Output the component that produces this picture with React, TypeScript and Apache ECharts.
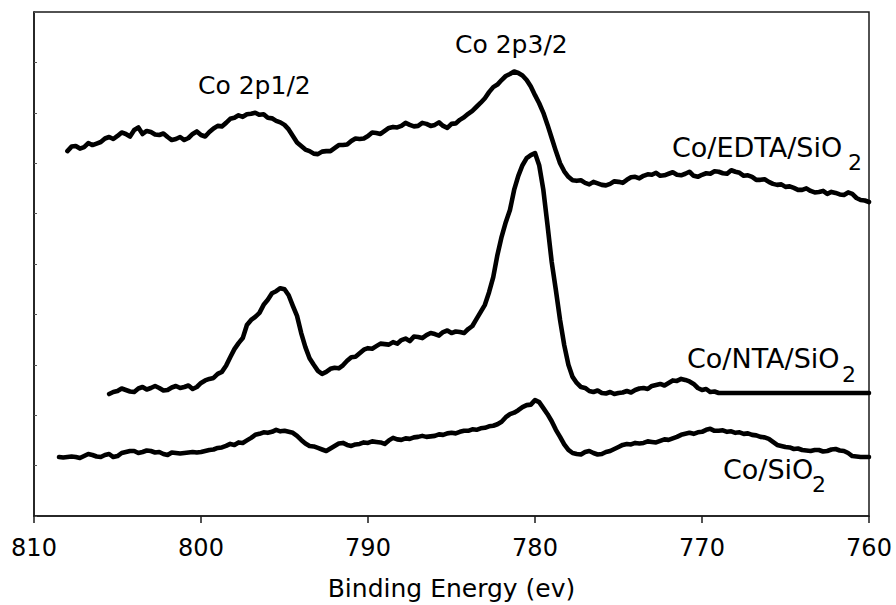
import React, { useEffect, useRef } from "react";
import * as echarts from "echarts";

// Binding energy grid (eV), 0.25 eV steps; every spectrum ends at 760 eV
const energy = [
  808.5, 808.25,
  808, 807.75, 807.5, 807.25, 807, 806.75, 806.5, 806.25,
  806, 805.75, 805.5, 805.25, 805, 804.75, 804.5, 804.25,
  804, 803.75, 803.5, 803.25, 803, 802.75, 802.5, 802.25,
  802, 801.75, 801.5, 801.25, 801, 800.75, 800.5, 800.25,
  800, 799.75, 799.5, 799.25, 799, 798.75, 798.5, 798.25,
  798, 797.75, 797.5, 797.25, 797, 796.75, 796.5, 796.25,
  796, 795.75, 795.5, 795.25, 795, 794.75, 794.5, 794.25,
  794, 793.75, 793.5, 793.25, 793, 792.75, 792.5, 792.25,
  792, 791.75, 791.5, 791.25, 791, 790.75, 790.5, 790.25,
  790, 789.75, 789.5, 789.25, 789, 788.75, 788.5, 788.25,
  788, 787.75, 787.5, 787.25, 787, 786.75, 786.5, 786.25,
  786, 785.75, 785.5, 785.25, 785, 784.75, 784.5, 784.25,
  784, 783.75, 783.5, 783.25, 783, 782.75, 782.5, 782.25,
  782, 781.75, 781.5, 781.25, 781, 780.75, 780.5, 780.25,
  780, 779.75, 779.5, 779.25, 779, 778.75, 778.5, 778.25,
  778, 777.75, 777.5, 777.25, 777, 776.75, 776.5, 776.25,
  776, 775.75, 775.5, 775.25, 775, 774.75, 774.5, 774.25,
  774, 773.75, 773.5, 773.25, 773, 772.75, 772.5, 772.25,
  772, 771.75, 771.5, 771.25, 771, 770.75, 770.5, 770.25,
  770, 769.75, 769.5, 769.25, 769, 768.75, 768.5, 768.25,
  768, 767.75, 767.5, 767.25, 767, 766.75, 766.5, 766.25,
  766, 765.75, 765.5, 765.25, 765, 764.75, 764.5, 764.25,
  764, 763.75, 763.5, 763.25, 763, 762.75, 762.5, 762.25,
  762, 761.75, 761.5, 761.25, 761, 760.75, 760.5, 760.25,
  760,
];

// Co/EDTA/SiO2 intensity (a.u., vertically offset), 808.0 -> 760 eV
const edta = [
  72.4, 73.3, 73.4, 72.9, 73.2, 74.0, 73.6, 73.9,
  74.2, 74.9, 75.2, 74.8, 75.4, 76.1, 75.8, 75.3,
  76.6, 77.1, 75.8, 76.4, 76.2, 75.7, 75.6, 75.9,
  75.2, 74.6, 74.8, 75.2, 74.6, 75.0, 75.8, 76.3,
  75.6, 75.3, 76.2, 76.9, 77.4, 77.3, 78.0, 78.8,
  79.0, 79.5, 79.2, 79.7, 79.8, 80.0, 79.6, 79.7,
  79.0, 78.9, 78.4, 78.1, 77.6, 76.7, 75.4, 74.1,
  73.4, 72.7, 72.4, 71.9, 71.8, 72.3, 72.4, 72.4,
  73.0, 73.6, 73.6, 73.7, 74.4, 74.9, 74.8, 74.9,
  75.4, 76.1, 76.0, 75.8, 76.4, 77.0, 77.2, 77.1,
  77.4, 78.0, 77.6, 77.3, 77.4, 78.0, 77.8, 77.4,
  77.6, 78.1, 77.4, 77.0, 77.8, 77.9, 78.6, 79.1,
  79.8, 80.4, 81.2, 82.0, 82.9, 84.1, 85.1, 85.6,
  86.5, 87.3, 87.7, 88.2, 87.9, 87.4, 86.5, 85.2,
  83.5, 81.9, 80.0, 77.6, 75.0, 72.4, 70.0, 68.4,
  67.3, 66.6, 66.5, 66.6, 66.1, 65.8, 66.3, 66.0,
  65.7, 65.6, 65.9, 66.4, 66.3, 66.1, 66.7, 67.2,
  67.3, 67.0, 67.5, 67.8, 67.7, 68.1, 67.5, 67.6,
  67.9, 68.2, 67.7, 67.6, 67.9, 68.3, 67.5, 67.3,
  67.7, 68.0, 67.9, 68.4, 68.3, 68.0, 67.9, 68.6,
  68.3, 68.1, 67.5, 67.6, 67.3, 66.7, 66.7, 66.8,
  66.3, 65.9, 65.7, 65.8, 65.3, 65.4, 65.1, 64.7,
  64.7, 65.0, 64.5, 64.2, 64.3, 64.5, 63.9, 64.3,
  64.1, 63.8, 63.7, 64.2, 63.9, 63.1, 62.7, 62.6,
  62.3,
];

// Co/NTA/SiO2 intensity (a.u., vertically offset), 805.5 -> 760 eV
const nta = [
  24.2, 24.6,
  24.8, 25.3, 25.0, 24.7, 24.6, 25.3, 25.6, 25.1,
  25.4, 25.8, 25.4, 24.9, 25.0, 25.5, 25.8, 25.4,
  25.6, 25.9, 25.2, 25.6, 26.4, 26.9, 27.2, 27.4,
  28.2, 28.6, 29.8, 31.5, 33.1, 34.3, 35.3, 37.9,
  38.9, 39.5, 40.3, 41.9, 42.9, 44.2, 44.6, 45.2,
  45.0, 43.8, 41.7, 39.7, 36.3, 33.5, 31.3, 30.0,
  28.8, 28.2, 28.6, 29.2, 29.4, 29.3, 29.9, 30.8,
  31.5, 31.6, 32.3, 33.0, 33.3, 33.2, 33.7, 34.2,
  34.1, 34.0, 34.5, 34.2, 34.9, 35.2, 34.7, 35.6,
  35.5, 35.3, 35.9, 36.3, 36.1, 35.8, 36.5, 36.8,
  36.3, 36.6, 36.5, 36.3, 37.1, 37.7, 39.1, 40.5,
  41.9, 44.4, 47.4, 51.8, 55.4, 58.3, 60.7, 64.7,
  67.5, 69.6, 71.0, 71.6, 72.0, 69.6, 64.7, 57.7,
  50.4, 44.8, 38.9, 33.9, 30.0, 27.6, 26.4, 25.6,
  25.4, 24.8, 24.6, 24.9, 24.4, 24.3, 24.6, 24.2,
  24.4, 24.5, 24.8, 24.5, 25.0, 25.3, 25.4, 25.2,
  25.8, 26.0, 26.2, 25.9, 26.4, 26.9, 26.8, 27.2,
  27.0, 26.7, 26.2, 25.4, 25.0, 25.2, 24.6, 24.7,
  24.4, 24.4, 24.4, 24.4, 24.4, 24.4, 24.4, 24.4,
  24.4, 24.4, 24.4, 24.4, 24.4, 24.4, 24.4, 24.4,
  24.4, 24.4, 24.4, 24.4, 24.4, 24.4, 24.4, 24.4,
  24.4, 24.4, 24.4, 24.4, 24.4, 24.4, 24.4, 24.4,
  24.4, 24.4, 24.4, 24.4,
  24.4,
];

// Co/SiO2 intensity (a.u.), 808.5 -> 760 eV
const cosio = [
  11.7, 11.6,
  11.7, 11.8, 11.7, 11.5, 11.9, 12.3, 12.1, 11.8,
  11.7, 12.1, 12.3, 11.7, 11.9, 12.5, 12.7, 12.9,
  12.9, 12.5, 12.7, 13.0, 12.9, 12.6, 12.7, 12.3,
  12.1, 12.6, 12.5, 12.4, 12.5, 12.6, 12.7, 12.6,
  12.7, 12.9, 13.1, 13.2, 13.5, 13.6, 13.9, 14.3,
  14.1, 14.6, 14.5, 15.0, 15.5, 16.1, 16.3, 16.6,
  16.5, 16.7, 17.1, 16.8, 16.9, 16.7, 16.5, 15.9,
  15.1, 14.4, 13.9, 13.8, 13.5, 13.2, 12.9, 13.4,
  13.9, 14.4, 14.5, 14.1, 13.9, 14.2, 14.3, 14.6,
  14.5, 14.8, 14.7, 14.6, 14.3, 15.0, 15.5, 15.2,
  15.1, 15.4, 15.3, 15.6, 15.7, 15.9, 15.7, 15.8,
  15.9, 16.2, 16.1, 16.4, 16.5, 16.4, 16.7, 16.9,
  16.9, 17.2, 17.1, 17.4, 17.5, 17.8, 17.9, 18.2,
  18.7, 19.6, 20.2, 20.5, 21.0, 21.6, 22.0, 22.1,
  23.0, 22.6, 21.4, 20.2, 18.8, 17.1, 15.7, 14.2,
  13.1, 12.5, 12.3, 12.2, 12.7, 12.9, 12.5, 12.2,
  12.3, 12.7, 12.9, 13.3, 13.7, 14.1, 14.3, 14.2,
  14.5, 14.4, 14.5, 14.8, 14.7, 14.6, 14.9, 15.2,
  15.1, 15.4, 15.7, 16.1, 16.3, 16.5, 16.3, 16.6,
  16.7, 17.1, 17.3, 16.9, 16.9, 17.0, 16.7, 16.8,
  16.5, 16.6, 16.3, 16.4, 16.1, 16.0, 15.7, 15.6,
  15.3, 14.7, 14.1, 13.9, 13.7, 13.6, 13.3, 13.4,
  13.1, 13.0, 12.9, 13.1, 13.1, 12.8, 12.9, 13.2,
  13.3, 13.0, 12.9, 12.5, 11.9, 11.8, 11.7, 11.7,
  11.7,
];

const xTicks = [810, 800, 790, 780, 770, 760];

// pair each value with its energy, aligned so the last value sits at 760 eV
const toPairs = (vals: number[]) =>
  vals.map((v, i) => [energy[energy.length - vals.length + i], v]);

const FONT = "DejaVu Sans";

export default function App() {
  const ref = useRef<HTMLDivElement>(null);

  useEffect(() => {
    if (!ref.current) return;
    const chart = echarts.init(ref.current, null, { renderer: "svg" });

    const lineSeries = (name: string, vals: number[]) => ({
      name,
      type: "line",
      data: toPairs(vals),
      showSymbol: false,
      symbol: "none",
      lineStyle: { color: "#000", width: 4.6, join: "round", cap: "round" },
      z: 3,
    });

    const label = (text: string, x: number, y: number, size: number) => ({
      type: "text",
      x,
      y,
      style: {
        text,
        fill: "#000",
        fontFamily: FONT,
        fontSize: size,
        textAlign: "left",
        verticalAlign: "middle",
      },
      z: 10,
    });

    chart.setOption({
      animation: false,
      backgroundColor: "#fff",
      grid: {
        left: 34,
        right: 27,
        top: 12,
        bottom: 89,
        outerBoundsMode: "none",
        show: true,
        borderColor: "#1a1a1a",
        borderWidth: 1.5,
        backgroundColor: "transparent",
      },
      xAxis: {
        type: "value",
        min: 760,
        max: 810,
        interval: 10,
        inverse: true,
        name: "Binding Energy (ev)",
        nameLocation: "middle",
        nameGap: 60,
        nameTextStyle: { color: "#000", fontFamily: FONT, fontSize: 25 },
        axisLine: { show: true, lineStyle: { color: "#1a1a1a", width: 1.5 } },
        axisTick: { show: true, length: 7, inside: false, lineStyle: { color: "#1a1a1a", width: 1.5 } },
        axisLabel: {
          color: "#000",
          fontFamily: FONT,
          fontSize: 24,
          margin: 20,
          formatter: (v: number) => (xTicks.includes(v) ? String(v) : ""),
        },
        splitLine: { show: false },
      },
      yAxis: {
        type: "value",
        min: 0,
        max: 100,
        interval: 10,
        axisLine: { show: true, lineStyle: { color: "#1a1a1a", width: 1.5 } },
        axisTick: { show: true, inside: true, length: 3, lineStyle: { color: "#555", width: 1 } },
        axisLabel: { show: false },
        splitLine: { show: false },
      },
      series: [
        lineSeries("Co/EDTA/SiO2", edta),
        lineSeries("Co/NTA/SiO2", nta),
        lineSeries("Co/SiO2", cosio),
      ],
      graphic: [
        label("Co 2p1/2", 198, 85, 25),
        label("Co 2p3/2", 455, 44, 25),
        label("Co/EDTA/SiO", 672, 147, 27),
        label("2", 848, 162, 22),
        label("Co/NTA/SiO", 687, 358, 27),
        label("2", 842, 374, 22),
        label("Co/SiO", 723, 469, 27),
        label("2", 812, 484, 22),
      ],
    });

    return () => chart.dispose();
  }, []);

  return (
    <div
      ref={ref}
      style={{ position: "fixed", left: 0, top: 0, width: 896, height: 605, background: "#fff" }}
    />
  );
}
